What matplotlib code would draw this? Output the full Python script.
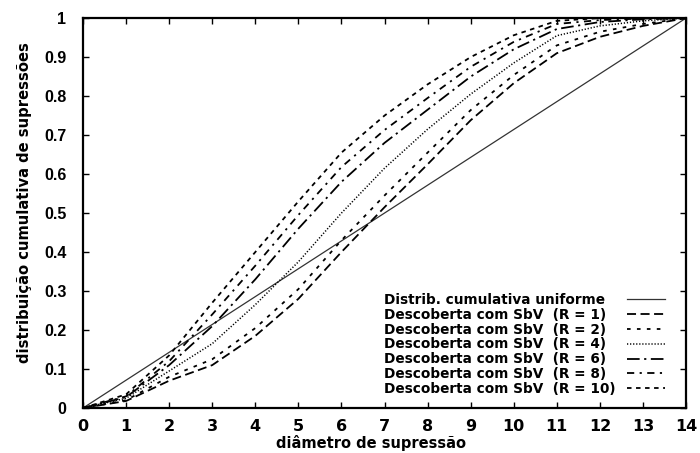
import matplotlib
matplotlib.use("Agg")
import matplotlib.pyplot as plt

plt.rcParams['font.family'] = ['DejaVu Sans']
plt.rcParams['font.weight'] = 'bold'

# --- Data ---
x_pts = [0, 1, 2, 3, 4, 5, 6, 7, 8, 9, 10, 11, 12, 13, 14]
unif_x = [0, 14]
unif_y = [0, 1]
r1 = [0, 0.018, 0.07, 0.11, 0.185, 0.28, 0.40, 0.515, 0.625, 0.738, 0.833, 0.91, 0.952, 0.98, 1.0]
r2 = [0, 0.02, 0.08, 0.125, 0.205, 0.305, 0.43, 0.545, 0.655, 0.764, 0.854, 0.93, 0.965, 0.985, 1.0]
r4 = [0, 0.025, 0.095, 0.165, 0.265, 0.375, 0.50, 0.615, 0.715, 0.805, 0.885, 0.955, 0.98, 0.993, 1.0]
r6 = [0, 0.028, 0.11, 0.21, 0.33, 0.46, 0.58, 0.68, 0.765, 0.85, 0.92, 0.972, 0.99, 0.997, 1.0]
r8 = [0, 0.03, 0.12, 0.24, 0.365, 0.495, 0.618, 0.713, 0.795, 0.875, 0.939, 0.985, 0.995, 0.999, 1.0]
r10 = [0, 0.035, 0.135, 0.27, 0.40, 0.53, 0.655, 0.75, 0.83, 0.90, 0.956, 0.993, 1.0, 1.0, 1.0]

labels = ['Distrib. cumulativa uniforme',
          'Descoberta com SbV  (R = 1)',
          'Descoberta com SbV  (R = 2)',
          'Descoberta com SbV  (R = 4)',
          'Descoberta com SbV  (R = 6)',
          'Descoberta com SbV  (R = 8)',
          'Descoberta com SbV  (R = 10)']

fig = plt.figure(figsize=(7, 4.53), dpi=100)
ax = fig.add_axes([0.1186, 0.0993, 0.8614, 0.8607])

lines = []
lines += ax.plot(unif_x, unif_y, color='#333333', lw=0.9)
lines += ax.plot(x_pts, r1, color='black', lw=1.3, dashes=(5, 2.5))
lines += ax.plot(x_pts, r2, color='black', lw=1.3, dashes=(2, 3.5))
lines += ax.plot(x_pts, r4, color='black', lw=1.1, dashes=(0.8, 1.2))
lines += ax.plot(x_pts, r6, color='black', lw=1.3, dashes=(7, 2.5, 1.2, 2.5))
lines += ax.plot(x_pts, r8, color='black', lw=1.3, dashes=(4, 3, 1.2, 3))
lines += ax.plot(x_pts, r10, color='black', lw=1.3, dashes=(2.5, 2.5))

ax.set_xlim(0, 14)
ax.set_ylim(0, 1)
ax.set_xticks(range(0, 15))
ax.set_yticks([i / 10 for i in range(11)])
ax.set_yticklabels(['0', '0.1', '0.2', '0.3', '0.4', '0.5', '0.6', '0.7', '0.8', '0.9', '1'])

ax.tick_params(axis='both', direction='in', top=True, right=True, length=4, width=1)
ax.tick_params(axis='x', pad=8, labelsize=11.5)
ax.tick_params(axis='y', pad=12, labelsize=11.5)
for lab in ax.get_xticklabels():
    lab.set_fontweight('bold')
for lab in ax.get_yticklabels():
    lab.set_fontweight('bold')
    lab.set_family('Liberation Sans')
for s in ax.spines.values():
    s.set_linewidth(1.6)

ax.set_xlabel('diâmetro de supressão', fontsize=10.5, fontweight='bold')
ax.xaxis.set_label_coords(0.478, -0.069)
ax.set_ylabel('distribuição cumulativa de supressões', fontsize=10.6, fontweight='bold')
ax.yaxis.set_label_coords(-0.085, 0.528)

# legend: left-aligned texts, line samples in a separate column on the right
prop = {'weight': 'bold', 'size': 9.8}
leg_txt = ax.legend(lines, labels, loc='lower left', bbox_to_anchor=(0.499, 0.031),
                    frameon=False, prop=prop, labelspacing=0.06, handlelength=0,
                    handletextpad=0, borderpad=0, borderaxespad=0)
ax.add_artist(leg_txt)
ax.legend(lines, [' '] * len(lines), loc='lower left', bbox_to_anchor=(0.902, 0.031),
          frameon=False, prop=prop, labelspacing=0.06, handlelength=2.78,
          handletextpad=0, borderpad=0, borderaxespad=0)

fig.savefig('out.png', dpi=100)
